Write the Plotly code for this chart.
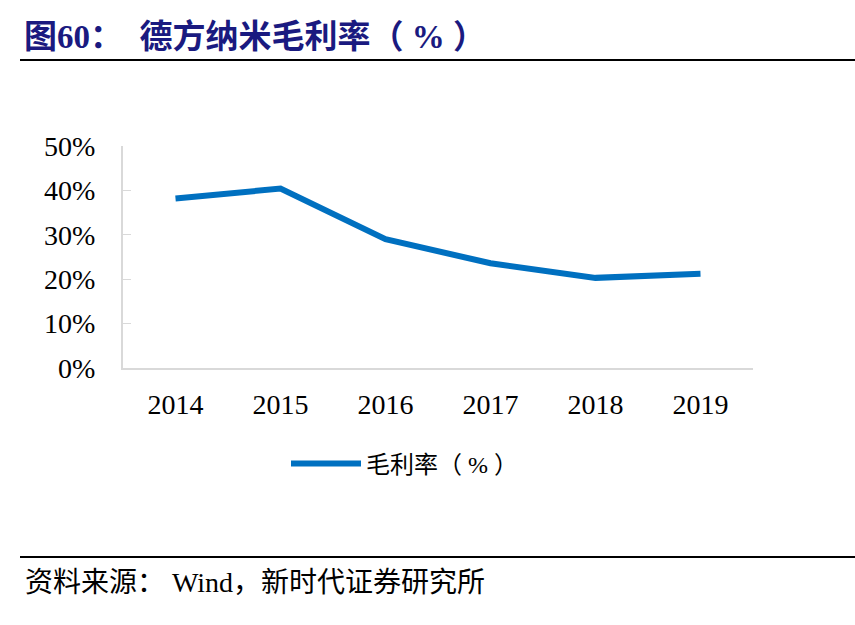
import plotly.graph_objects as go

years = ["2014", "2015", "2016", "2017", "2018", "2019"]
gross_margin = [38.2, 40.4, 29.0, 23.6, 20.3, 21.2]
y_ticks = [0, 10, 20, 30, 40, 50]
y_tick_labels = ["0%", "10%", "20%", "30%", "40%", "50%"]

W, H = 855, 625
L, R, T, B = 123, 102, 146, 257
PW = W - L - R
PH = H - T - B

def px(x):
    return (x - L) / PW

def py(y):
    return (H - B - y) / PH

serif = "Liberation Serif, Times New Roman, Noto Sans CJK SC, serif"

fig = go.Figure()
fig.add_trace(go.Scatter(
    x=years, y=gross_margin, mode="lines", name="毛利率（ % ）",
    line=dict(color="#0070C0", width=6),
))

fig.update_layout(
    width=W, height=H,
    margin=dict(l=L, r=R, t=T, b=B),
    paper_bgcolor="white", plot_bgcolor="white",
    font=dict(family=serif, color="black"),
    showlegend=True,
    legend=dict(
        orientation="h", x=px(286), y=py(464), xanchor="left", yanchor="middle",
        font=dict(size=24, family=serif), itemwidth=70,
    ),
    xaxis=dict(
        type="category", range=[-0.5, 5.5],
        showline=True, linecolor="#D9D9D9", linewidth=2,
        ticks="", showgrid=False, zeroline=False,
        tickfont=dict(size=28, family=serif), ticklabelstandoff=10,
    ),
    yaxis=dict(
        range=[0, 50], tickvals=y_ticks, ticktext=y_tick_labels,
        showline=True, linecolor="#D9D9D9", linewidth=2,
        ticks="inside", ticklen=8, tickcolor="#D9D9D9", tickwidth=1,
        showgrid=False, zeroline=False,
        tickfont=dict(size=28, family=serif), ticklabelstandoff=20,
    ),
)

fig.add_annotation(
    text="<b>图60：  德方纳米毛利率（ % ）</b>",
    xref="paper", yref="paper", x=px(22), y=py(37),
    xanchor="left", yanchor="middle", showarrow=False,
    font=dict(size=33, color="#1A1A80", family=serif),
)
fig.add_annotation(
    text="资料来源： Wind，新时代证券研究所",
    xref="paper", yref="paper", x=px(23), y=py(582),
    xanchor="left", yanchor="middle", showarrow=False,
    font=dict(size=28, color="black", family=serif),
)
for yy in (60, 557):
    fig.add_shape(
        type="line", xref="paper", yref="paper",
        x0=px(20), x1=px(855), y0=py(yy), y1=py(yy),
        line=dict(color="black", width=2),
    )

fig.write_html("out.html")
